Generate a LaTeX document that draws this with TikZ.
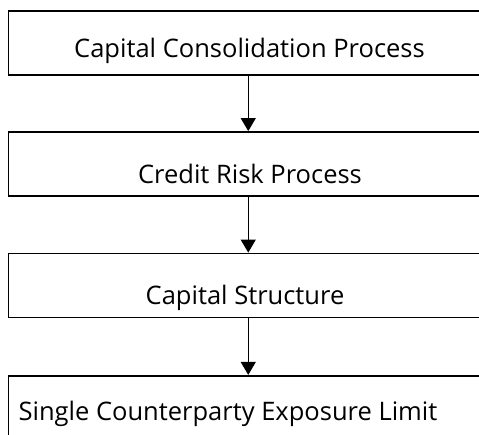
\documentclass[tikz,border=0pt]{standalone}
\usepackage{fontspec}
\setmainfont{Open Sans}
\usetikzlibrary{arrows.meta,positioning}
\tikzset{
  procbox/.style={draw=black,line width=1.6pt,rectangle,minimum width=479.5pt,minimum height=64pt,inner sep=0pt},
  proclabel/.style={anchor=base,inner sep=0pt,font=\fontsize{25.5}{30}\selectfont},
  flowarrow/.style={-{Triangle[length=13pt,width=15pt]},line width=1pt}
}

\begin{document}
\begin{tikzpicture}[x=1pt,y=-1pt]
  \useasboundingbox (0,0) rectangle (479,434);
  \clip (0,0) rectangle (479,434);
  % boxes
  \node[procbox] (box1) at (248.25,43) {};
  \node[procbox] (box2) at (248.25,163.9) {};
  \node[procbox] (box3) at (248.25,285.4) {};
  \node[procbox] (box4) at (248.25,407.7) {};
  % labels
  \node[proclabel] (lab1) at (249.5,57.5) {Capital Consolidation Process};
  \node[proclabel] (lab2) at (250,183) {Credit Risk Process};
  \node[proclabel] (lab3) at (245,304) {Capital Structure};
  \node[proclabel] (lab4) at (228,420) {Single Counterparty Exposure Limit};
  % flow
  \draw[flowarrow] (box1.south) -- (box2.north);
  \draw[flowarrow] (box2.south) -- (box3.north);
  \draw[flowarrow] (box3.south) -- (box4.north);
\end{tikzpicture}
\end{document}
